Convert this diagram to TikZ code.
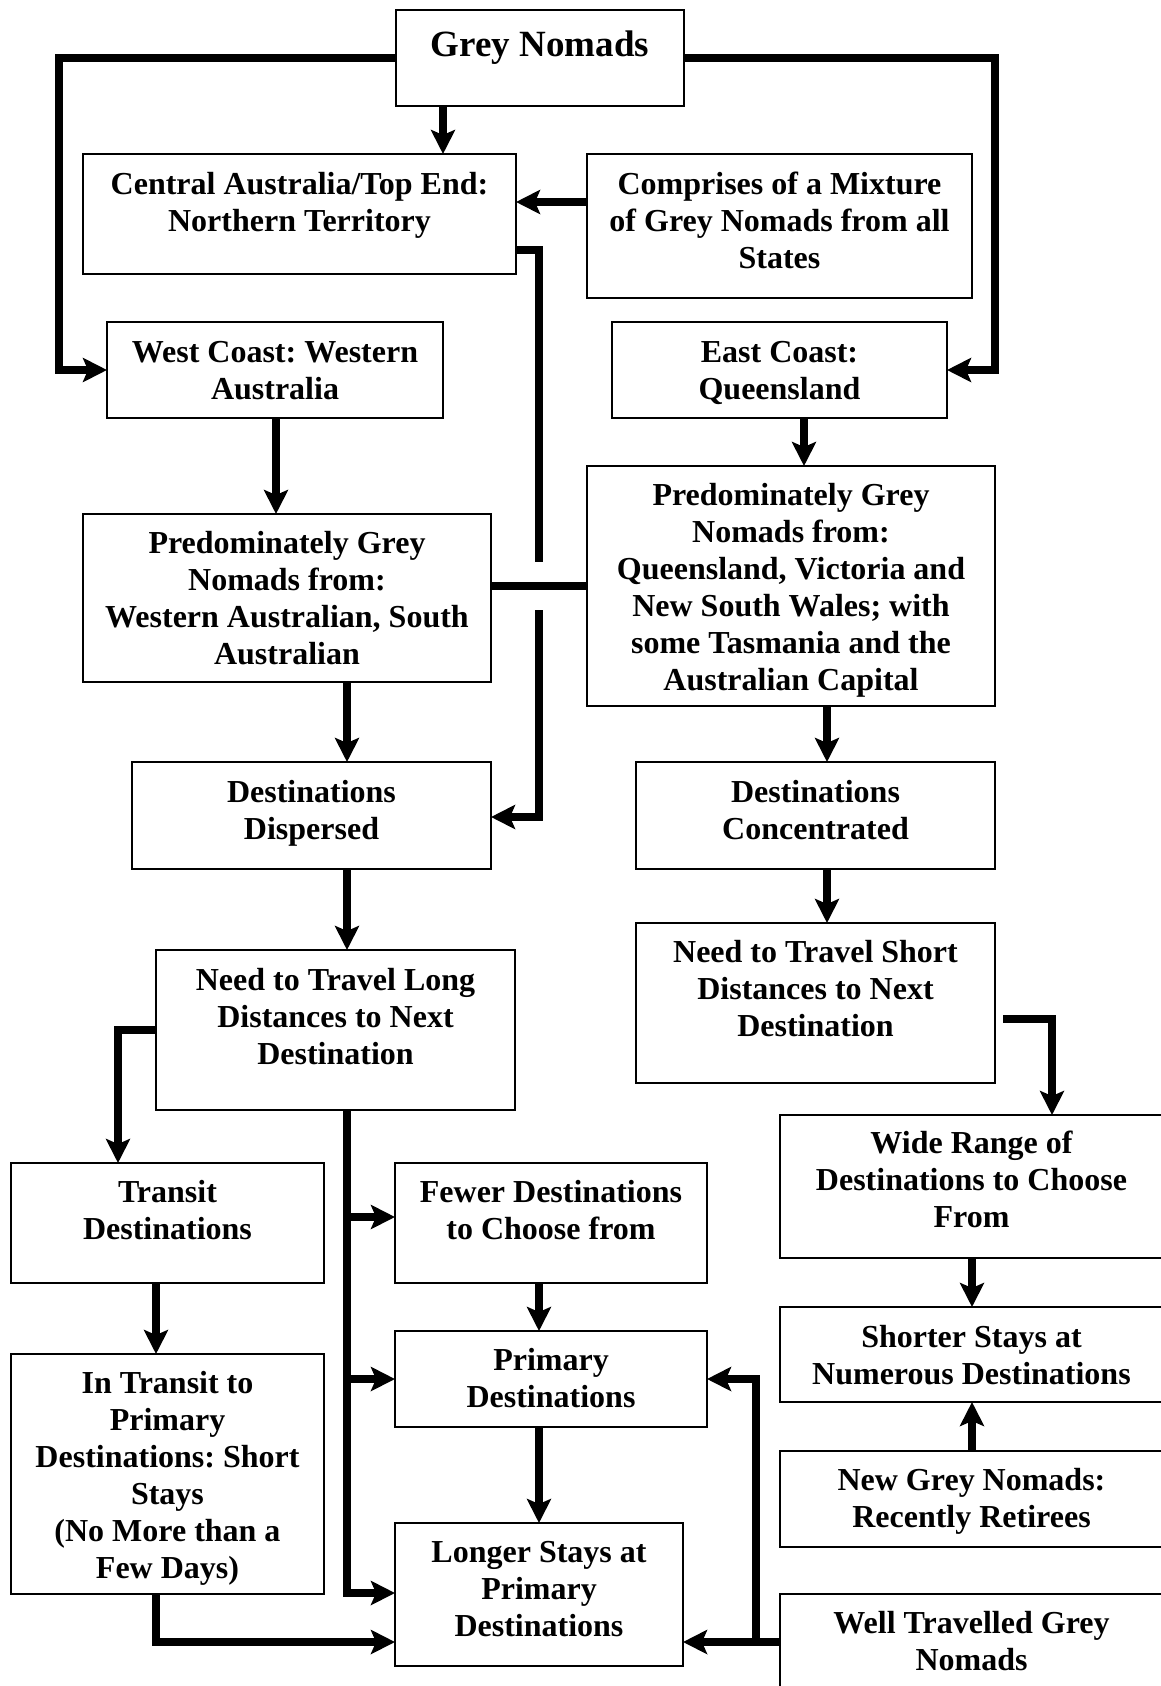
\documentclass[tikz,border=0pt]{standalone}
\usepackage{fontspec}
\setmainfont{Liberation Serif}
\usetikzlibrary{arrows.meta}
\frenchspacing
\newcommand\bxfont{\fontsize{32}{37}\selectfont\bfseries\frenchspacing}
% name, x1, y1, x2, y2, first baseline (absolute), text
\newcommand\bx[7]{%
  \node[boxst] (#1) at (#2,#3) {\parbox[t][\dimexpr#5pt-#3pt\relax][t]{\dimexpr#4pt-#2pt\relax}{\bxfont\centering\vspace*{\dimexpr#6pt-#3pt-\ht\strutbox\relax}\strut #7}};}
\begin{document}
\begin{tikzpicture}[x=1pt,y=-1pt,
  boxst/.style={draw, line width=1.2pt, inner sep=0pt, outer sep=0pt, anchor=north west},
  conn/.style={line width=8pt},
  arr/.style={conn, -{Stealth[length=24pt,width=24pt,inset=5pt]}}]
\clip (0,0) rectangle (1161,1686);
\fill[white] (0,0) rectangle (1161,1686);

\node[boxst] (gn) at (396,10) {\parbox[t][96pt][t]{288pt}{\fontsize{37}{42}\selectfont\bfseries\centering\vspace*{\dimexpr47pt-\ht\strutbox\relax}\strut Grey Nomads}};
\bx{ct}{83}{154}{516}{274}{194}{Central Australia/Top End:\\Northern Territory}
\bx{cm}{587}{154}{972}{298}{194}{Comprises of a Mixture\\of Grey Nomads from all\\States}
\bx{wc}{107}{322}{443}{418}{362}{West Coast: Western\\Australia}
\bx{ec}{612}{322}{947}{418}{362}{East Coast:\\Queensland}
\bx{pw}{83}{514}{491}{682}{553}{Predominately Grey\\Nomads from:\\Western Australian, South\\Australian}
\bx{pe}{587}{466}{995}{706}{505}{Predominately Grey\\Nomads from:\\Queensland, Victoria and\\New South Wales; with\\some Tasmania and the\\Australian Capital}
\bx{dd}{132}{762}{491}{869}{802}{Destinations\\Dispersed}
\bx{dc}{636}{762}{995}{869}{802}{Destinations\\Concentrated}
\bx{nl}{156}{950}{515}{1110}{990}{Need to Travel Long\\Distances to Next\\Destination}
\bx{ns}{636}{923}{995}{1083}{962}{Need to Travel Short\\Distances to Next\\Destination}
\bx{wr}{780}{1115}{1163}{1258}{1153}{Wide Range of\\Destinations to Choose\\From}
\bx{tr}{11}{1163}{324}{1283}{1202}{Transit\\Destinations}
\bx{fw}{395}{1163}{707}{1283}{1202}{Fewer Destinations\\to Choose from}
\bx{sh}{780}{1307}{1163}{1402}{1347}{Shorter Stays at\\Numerous Destinations}
\bx{pr}{395}{1331}{707}{1427}{1370}{Primary\\Destinations}
\bx{it}{11}{1354}{324}{1594}{1393}{In Transit to\\Primary\\Destinations: Short\\Stays\\(No More than a\\Few Days)}
\bx{ng}{780}{1451}{1163}{1547}{1490}{New Grey Nomads:\\Recently Retirees}
\bx{lg}{395}{1523}{683}{1666}{1562}{Longer Stays at\\Primary\\Destinations}
\bx{wt}{780}{1594}{1163}{1700}{1633}{Well Travelled Grey\\Nomads}

\draw[arr] (gn.south -| 443,0) -- (ct.north -| 443,0);
\draw[arr] (gn.west |- 0,58) -| (59,370) -- (wc.west |- 0,370);
\draw[arr] (gn.east |- 0,58) -| (995,370) -- (ec.east |- 0,370);
\draw[arr] (cm.west |- 0,202) -- (ct.east |- 0,202);
\coordinate (hopA) at (539,562);
\coordinate (hopB) at (539,610);
\draw[conn] (ct.east |- 0,250) -| (hopA);
\draw[arr] (hopB) |- (dd.east |- 0,817);
\draw[conn] (pw.east |- 0,586) -- (pe.west |- 0,586);
\draw[arr] (wc.south -| 276,0) -- (pw.north -| 276,0);
\draw[arr] (ec.south -| 804,0) -- (pe.north -| 804,0);
\draw[arr] (pw.south -| 347,0) -- (dd.north -| 347,0);
\draw[arr] (pe.south -| 827,0) -- (dc.north -| 827,0);
\draw[arr] (dd.south -| 347,0) -- (nl.north -| 347,0);
\draw[arr] (dc.south -| 827,0) -- (ns.north -| 827,0);
\coordinate (nsout) at (1003,1019);
\draw[arr] (nsout) -| (wr.north -| 1052,0);
\draw[arr] (nl.west |- 0,1030) -| (tr.north -| 118,0);
\draw[arr] (nl.south -| 347,0) |- (lg.west |- 0,1593);
\draw[arr] (nl.south -| 347,0) |- (fw.west |- 0,1217);
\draw[arr] (nl.south -| 347,0) |- (pr.west |- 0,1379);
\draw[arr] (fw.south -| 539,0) -- (pr.north -| 539,0);
\draw[arr] (pr.south -| 539,0) -- (lg.north -| 539,0);
\draw[arr] (tr.south -| 156,0) -- (it.north -| 156,0);
\draw[arr] (it.south -| 156,0) |- (lg.west |- 0,1642);
\draw[arr] (wt.west |- 0,1642) -- (lg.east |- 0,1642);
\draw[arr] (wt.west |- 0,1642) -| (756,1379) -- (pr.east |- 0,1379);
\draw[arr] (wr.south -| 972,0) -- (sh.north -| 972,0);
\draw[arr] (ng.north -| 972,0) -- (sh.south -| 972,0);
\end{tikzpicture}
\end{document}
